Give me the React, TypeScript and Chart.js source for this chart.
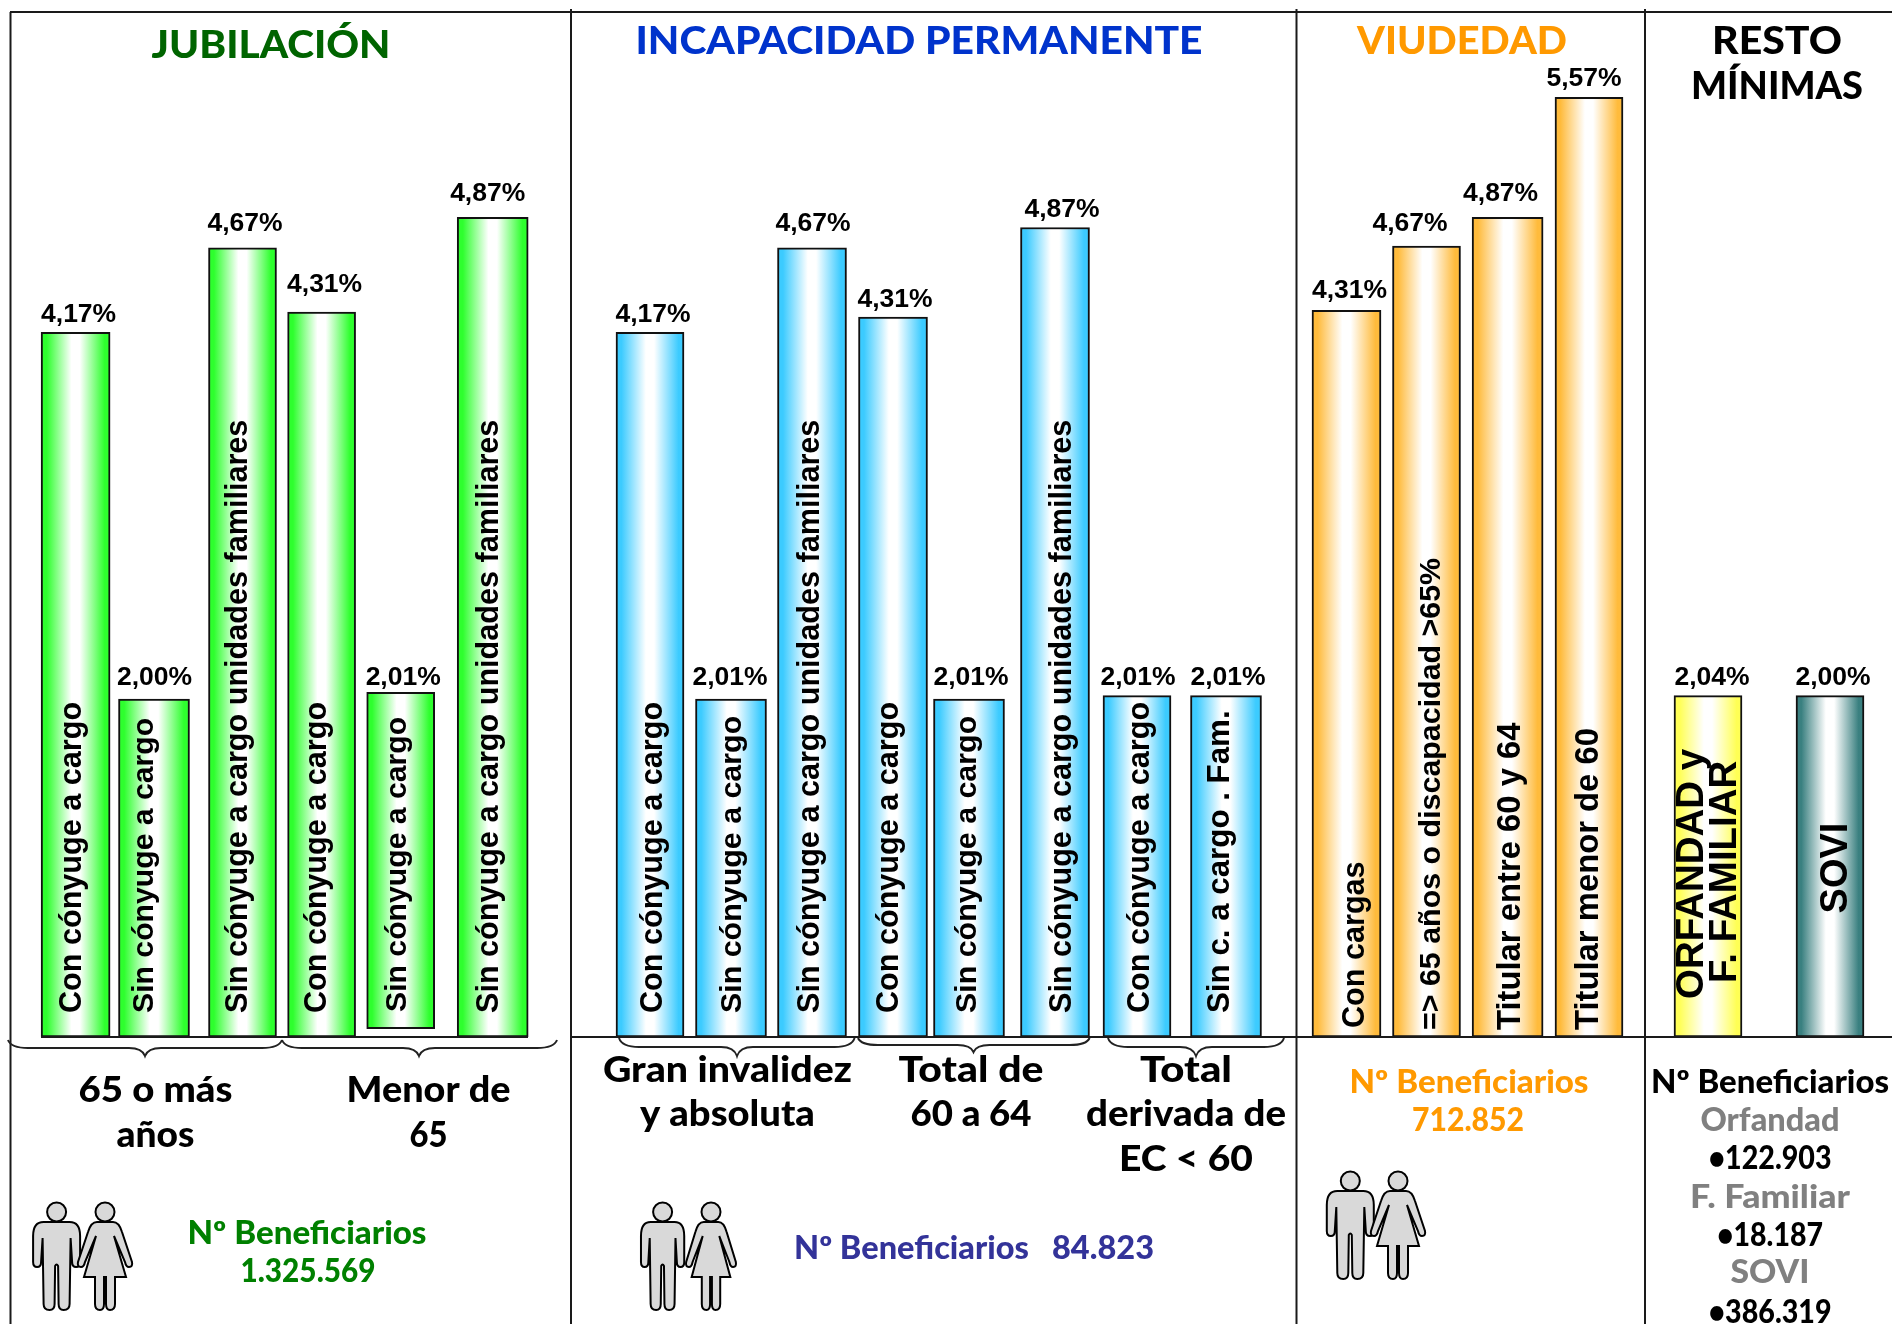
import React, { useEffect, useRef } from "react";
import { Chart, registerables } from "chart.js";

Chart.register(...registerables);

// ---------- data ----------
const jubilacionCategories = ["Con cónyuge a cargo", "Sin cónyuge a cargo", "Sin cónyuge a cargo unidades familiares", "Con cónyuge a cargo", "Sin cónyuge a cargo", "Sin cónyuge a cargo unidades familiares"];
const jubilacionValues = [4.17, 2.0, 4.67, 4.29, 2.04, 4.85];
const jubilacionBase = [0, 0, 0, 0, 0.05, 0];
const jubilacionTicks = ["4,17%", "2,00%", "4,67%", "4,31%", "2,01%", "4,87%"];

const incapacidadCategories = ["Con cónyuge a cargo", "Sin cónyuge a cargo", "Sin cónyuge a cargo unidades familiares", "Con cónyuge a cargo", "Sin cónyuge a cargo", "Sin cónyuge a cargo unidades familiares", "Con cónyuge a cargo", "Sin c. a cargo . Fam."];
const incapacidadValues = [4.17, 2.0, 4.67, 4.26, 2.0, 4.79, 2.02, 2.02];
const incapacidadBase = [0, 0, 0, 0, 0, 0, 0, 0];
const incapacidadTicks = ["4,17%", "2,01%", "4,67%", "4,31%", "2,01%", "4,87%", "2,01%", "2,01%"];

const viudedadCategories = ["Con cargas", "=> 65 años o discapacidad >65%", "Titular entre 60 y 64", "Titular menor de 60"];
const viudedadValues = [4.3, 4.68, 4.85, 5.56];
const viudedadBase = [0, 0, 0, 0];
const viudedadTicks = ["4,31%", "4,67%", "4,87%", "5,57%"];

const restoCategories = ["ORFANDAD y|F. FAMILIAR", "SOVI"];
const restoValues = [2.02, 2.02];
const restoBase = [0, 0];
const restoTicks = ["2,04%", "2,00%"];

// ---------- layout (x axis unit = 80 px, y axis unit = 169 px) ----------
const UNIT_X = 80;
const X_MAX = 1892 / UNIT_X;
const Y_MAX = 1037 / 169;
const HEAD = "900 37px Lato";
const SUB = "900 36px Lato";
const BEN = "900 32px Lato";

type Panel = {
  cats: string[]; vals: number[]; base: number[]; ticks: string[]; colors: string[];
  centers: number[]; widths: number[]; tickDx: number[]; tickCy: number[]; textDx: number[]; textY: number[]; textSize: number[];
};
const GREEN = "#2EFF2E", BLUE = "#3CCBFF", ORANGE = "#FFBB3C", YELLOW = "#FFFF55", TEAL = "#3A8080";
const panels: Panel[] = [
  {
    cats: jubilacionCategories, vals: jubilacionValues, base: jubilacionBase, ticks: jubilacionTicks,
    colors: Array(6).fill(GREEN),
    centers: [75.6, 154, 242.5, 321.6, 400.7, 492.7], widths: [69, 71, 68, 68, 68, 71],
    tickDx: [3, 0.5, 2.5, 3, 2.5, -5], tickCy: [312, 675.2, 221.5, 282, 675.2, 191.5],
    textDx: [5, -1, 4.7, 4.4, 5.7, 4.8], textY: [1013, 1013, 1013, 1013, 1012, 1013],
    textSize: [30.6, 30.2, 30.6, 30.6, 30.2, 30.6],
  },
  {
    cats: incapacidadCategories, vals: incapacidadValues, base: incapacidadBase, ticks: incapacidadTicks,
    colors: Array(8).fill(BLUE),
    centers: [650, 731, 812, 893, 969, 1055, 1137, 1226], widths: [68, 71, 69, 69, 71, 69, 68, 71],
    tickDx: [3, -1, 1, 2, 2, 7, 1, 2], tickCy: [312, 675.2, 221.5, 297.5, 675.2, 207, 675.2, 675.2],
    textDx: [11.7, 9.7, 6.8, 4.7, 6.8, 16, 12, 2.8], textY: [1013, 1013, 1013, 1013, 1013, 1013, 1013, 1013],
    textSize: [30.6, 30.4, 30.6, 30.6, 30.4, 30.6, 30.6, 31.3],
  },
  {
    cats: viudedadCategories, vals: viudedadValues, base: viudedadBase, ticks: viudedadTicks,
    colors: Array(4).fill(ORANGE),
    centers: [1346.5, 1426.5, 1507.6, 1589], widths: [69, 68, 71, 68],
    tickDx: [3, -16.5, -7, -5], tickCy: [288, 221.5, 191.5, 76.7],
    textDx: [17, 13, 12, 9], textY: [1028, 1030, 1030, 1030],
    textSize: [30.6, 30.4, 32.8, 32.8],
  },
  {
    cats: restoCategories, vals: restoValues, base: restoBase, ticks: restoTicks,
    colors: [YELLOW, TEAL],
    centers: [1708, 1830], widths: [68, 68],
    tickDx: [4, 3], tickCy: [675.2, 675.2],
    textDx: [0, 17], textY: [0, 868],
    textSize: [38.5, 38],
  },
];

// text, centre x, baseline y, font, colour, width measured on the picture
type Txt = [string, number, number, string, string, number];
const annotations: Txt[] = [
  ["JUBILACIÓN", 271, 58, HEAD, "#006400", 239],
  ["INCAPACIDAD PERMANENTE", 919, 54, HEAD, "#0033CC", 567],
  ["VIUDEDAD", 1462, 54, HEAD, "#FF9900", 210],
  ["RESTO", 1777, 54, HEAD, "#000", 130],
  ["MÍNIMAS", 1777, 99, HEAD, "#000", 172],
  ["65 o más", 155.5, 1102, SUB, "#000", 154],
  ["años", 155.5, 1147, SUB, "#000", 78],
  ["Menor de", 428.5, 1102, SUB, "#000", 164],
  ["65", 428.5, 1147, SUB, "#000", 38],
  ["Gran invalidez", 727.4, 1082, SUB, "#000", 249],
  ["y absoluta", 727.4, 1126, SUB, "#000", 175],
  ["Total de", 971, 1082, SUB, "#000", 145],
  ["60 a 64", 971, 1126, SUB, "#000", 121],
  ["Total", 1186, 1082, SUB, "#000", 92],
  ["derivada de", 1186, 1126, SUB, "#000", 200],
  ["EC < 60", 1186, 1171, SUB, "#000", 134],
  ["Nº Beneficiarios", 307, 1244, BEN, "#008000", 239],
  ["1.325.569", 308, 1282, BEN, "#008000", 135],
  ["Nº Beneficiarios   84.823", 974, 1259, BEN, "#333399", 360],
  ["Nº Beneficiarios", 1469, 1093, BEN, "#FF9900", 239],
  ["712.852", 1468, 1131, BEN, "#FF9900", 112],
  ["Nº Beneficiarios", 1770, 1093, BEN, "#000", 238],
  ["Orfandad", 1770, 1131, BEN, "#808080", 139],
  ["•122.903", 1770, 1169, BEN, "#000", 123],
  ["F. Familiar", 1770, 1208, BEN, "#808080", 160],
  ["•18.187", 1770, 1246, BEN, "#000", 106],
  ["SOVI", 1770, 1283, BEN, "#808080", 79],
  ["•386.319", 1770, 1323, BEN, "#000", 123],
];

// brace: x0, x1, tipX, yStart, yMid, yTip
const braces = [
  [8, 282, 145, 1040, 1048, 1056],
  [282, 557, 419, 1040, 1048, 1056],
  [619, 854.6, 737, 1038, 1047, 1056],
  [858, 1089.6, 973.5, 1038, 1045, 1052],
  [1108, 1284, 1196, 1038, 1047, 1056],
];
// couple: man head x, woman head x, head y, x scale
const couples = [
  [56.6, 105, 1212, 1],
  [662.6, 711, 1212, 0.92],
  [1350.3, 1398, 1181, 1],
];

function drawBrace(c: CanvasRenderingContext2D, b: number[]) {
  const [x0, x1, tip, y0, ym, yt] = b;
  c.beginPath();
  c.moveTo(x0, y0);
  c.quadraticCurveTo(x0 + 3, ym, x0 + 20, ym);
  c.lineTo(tip - 16, ym);
  c.quadraticCurveTo(tip - 3, ym, tip, yt);
  c.quadraticCurveTo(tip + 3, ym, tip + 16, ym);
  c.lineTo(x1 - 20, ym);
  c.quadraticCurveTo(x1 - 3, ym, x1, y0);
  c.strokeStyle = "#222";
  c.lineWidth = 2;
  c.stroke();
}

function drawPerson(c: CanvasRenderingContext2D, x: number, y: number, sx: number, woman: boolean) {
  c.save();
  c.translate(x, y);
  c.fillStyle = "#D9D9D9";
  c.strokeStyle = "#000";
  c.lineWidth = 2;
  c.beginPath();
  c.arc(0, 0, 9.5, 0, Math.PI * 2);
  c.fill();
  c.stroke();
  c.scale(sx, 1);
  c.beginPath();
  if (woman) {
    for (const m of [1, -1]) {
      if (m === 1) c.moveTo(-8, 10);
      const pts: number[][] = m === 1
        ? [[8, 10, 0], [14, 10, 17, 20], [27, 50, 0], [28, 55, 24, 55], [21, 55, 20, 50], [9, 24, 0], [21, 65, 0], [10, 65, 0], [10, 92, 0], [10, 98, 5, 98], [1, 98, 1, 92], [1, 65, 0]]
        : [[-1, 65, 0], [-1, 92, 0], [-1, 98, -5, 98], [-10, 98, -10, 92], [-10, 65, 0], [-21, 65, 0], [-9, 24, 0], [-20, 50, 0], [-21, 55, -24, 55], [-28, 55, -27, 50], [-17, 20, 0], [-14, 10, -8, 10]];
      for (const p of pts) {
        if (p.length === 3) c.lineTo(p[0], p[1]);
        else c.quadraticCurveTo(p[0], p[1], p[2], p[3]);
      }
    }
  } else {
    c.moveTo(-13, 10);
    const right: number[][] = [[13, 10, 0], [23.5, 10, 23.5, 24], [23.5, 50, 0], [23.5, 55, 19.5, 55], [15.5, 55, 15.5, 50], [14, 26, 0], [13, 92, 0], [13, 98, 7, 98], [2, 98, 2, 92], [1.5, 54, 0], [0, 51, -1.5, 54], [-2, 92, 0], [-2, 98, -7, 98], [-13, 98, -13, 92], [-14, 26, 0], [-15.5, 50, 0], [-15.5, 55, -19.5, 55], [-23.5, 55, -23.5, 50], [-23.5, 24, 0], [-23.5, 10, -13, 10]];
    for (const p of right) {
      if (p.length === 3) c.lineTo(p[0], p[1]);
      else c.quadraticCurveTo(p[0], p[1], p[2], p[3]);
    }
  }
  c.closePath();
  c.fill();
  c.setTransform(1, 0, 0, 1, 0, 0);
  c.stroke();
  c.restore();
}

const decorations = {
  id: "decorations",
  beforeDatasetsDraw(chart: any) {
    const c: CanvasRenderingContext2D = chart.ctx;
    c.save();
    c.strokeStyle = "#1a1a1a";
    c.lineWidth = 2;
    c.beginPath();
    c.moveTo(10.5, 12); c.lineTo(10.5, 1324);
    c.moveTo(10, 12); c.lineTo(1892, 12);
    for (const x of [571, 1296.5, 1645]) { c.moveTo(x, 9); c.lineTo(x, 1324); }
    c.stroke();
    c.restore();
  },
  afterDatasetsDraw(chart: any) {
    const c: CanvasRenderingContext2D = chart.ctx;
    const xs = chart.scales.x, ys = chart.scales.y;
    const base = ys.getPixelForValue(0);
    c.save();
    c.strokeStyle = "#1a1a1a";
    c.lineWidth = 2;
    c.beginPath();
    c.moveTo(41, base); c.lineTo(528, base);
    c.moveTo(571, base); c.lineTo(1892, base);
    c.stroke();

    c.fillStyle = "#000";
    panels.forEach((p, pi) => {
      p.cats.forEach((cat, i) => {
        const cx = xs.getPixelForValue(p.centers[i] / UNIT_X);
        c.font = "bold 26.5px 'Liberation Sans'";
        c.textAlign = "center";
        c.textBaseline = "alphabetic";
        c.fillStyle = "#000";
        c.fillText(p.ticks[i], cx + p.tickDx[i], p.tickCy[i] + 9.5);
        const lines = cat.split("|");
        const font = `bold ${p.textSize[i]}px 'Liberation Sans'`;
        if (pi < 3) {
          c.save();
          c.translate(cx + p.textDx[i], p.textY[i]);
          c.rotate(-Math.PI / 2);
          c.font = font;
          c.textAlign = "left";
          c.fillText(cat, 0, 0);
          c.restore();
        } else if (lines.length === 2) {
          c.save();
          c.font = font;
          c.textAlign = "left";
          c.translate(1702.5, 999); c.rotate(-Math.PI / 2); c.fillText(lines[0], 0, 0);
          c.restore();
          c.save();
          c.font = font;
          c.textAlign = "left";
          c.translate(1736, 983); c.rotate(-Math.PI / 2); c.fillText(lines[1], 0, 0);
          c.restore();
        } else {
          c.save();
          c.font = font;
          c.textAlign = "center";
          c.translate(cx + p.textDx[i], p.textY[i]); c.rotate(-Math.PI / 2); c.fillText(cat, 0, 0);
          c.restore();
        }
      });
    });
    c.textAlign = "center";
    c.textBaseline = "alphabetic";
    for (const [s, x, y, f, col, w] of annotations) {
      c.save();
      c.font = f;
      c.fillStyle = col;
      c.translate(x, y);
      c.scale(w / c.measureText(s).width, 1);
      c.fillText(s, 0, 0);
      c.restore();
    }
    braces.forEach((b) => drawBrace(c, b));
    couples.forEach(([m, w, y, s]) => {
      drawPerson(c, m, y, s, false);
      drawPerson(c, w, y, s, true);
    });
    c.restore();
  },
};

function gradientFor(chart: any, cx: number, w: number, color: string) {
  if (!Number.isFinite(cx)) return color;
  const g = chart.ctx.createLinearGradient(cx - w / 2, 0, cx + w / 2, 0);
  g.addColorStop(0, color);
  g.addColorStop(0.08, color);
  g.addColorStop(0.44, "#FFFFFF");
  g.addColorStop(0.56, "#FFFFFF");
  g.addColorStop(0.92, color);
  g.addColorStop(1, color);
  return g;
}

function buildDatasets() {
  const out: any[] = [];
  panels.forEach((p) => {
    p.vals.forEach((v, i) => {
      out.push({
        label: p.cats[i],
        data: [{ x: p.centers[i] / UNIT_X, y: [p.base[i], v] }],
        maxBarThickness: p.widths[i],
        barPercentage: 1,
        categoryPercentage: 1,
        grouped: false,
        borderWidth: 2,
        borderColor: "#111",
        borderSkipped: false,
        backgroundColor: (ctx: any) =>
          gradientFor(ctx.chart, ctx.chart.scales.x.getPixelForValue(p.centers[i] / UNIT_X), p.widths[i], p.colors[i]),
      });
    });
  });
  return out;
}

export default function App() {
  const ref = useRef<HTMLCanvasElement>(null);
  useEffect(() => {
    const chart = new Chart(ref.current as HTMLCanvasElement, {
      type: "bar",
      data: { datasets: buildDatasets() },
      options: {
        animation: false,
        responsive: false,
        devicePixelRatio: 1,
        layout: { padding: { left: 0, right: 0, top: 0, bottom: 287 } },
        plugins: { legend: { display: false }, title: { display: false }, tooltip: { enabled: false } },
        scales: {
          x: { type: "linear", min: 0, max: X_MAX, offset: false, display: false },
          y: { min: 0, max: Y_MAX, display: false },
        },
      },
      plugins: [decorations],
    } as any);
    return () => chart.destroy();
  }, []);
  return (
    <div style={{ position: "absolute", left: 0, top: 0, width: 1892, height: 1324, overflow: "hidden", background: "#fff" }}>
      <canvas ref={ref} width={1892} height={1324} style={{ display: "block" }} />
    </div>
  );
}
